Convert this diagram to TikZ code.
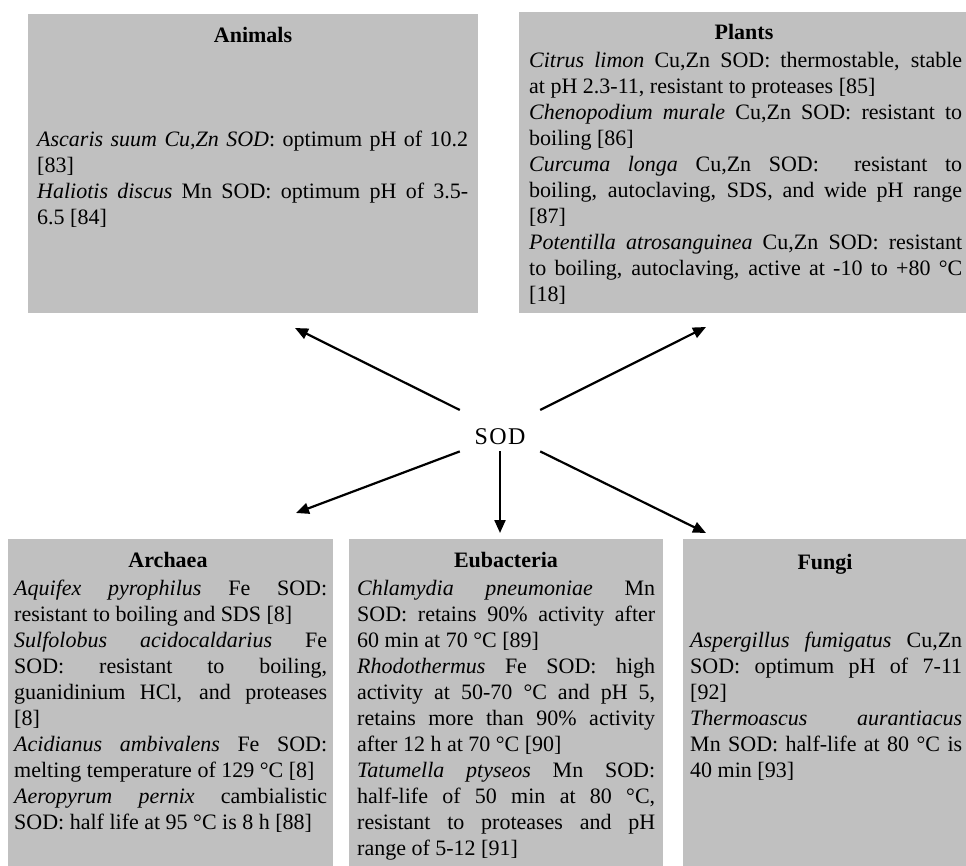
\documentclass[tikz,border=0pt]{standalone}
\usepackage{fontspec}
\setmainfont{Liberation Serif}
\usetikzlibrary{arrows.meta}
\definecolor{panelgray}{HTML}{C0C0C0}
\newcommand\fs{\fontsize{22}{26}\selectfont}
\newcommand\jl[1]{\hbox to \linewidth{\strut #1}}
\newcommand\pl[1]{\hbox to \linewidth{\strut #1\hfil}}
\newcommand\blk[2]{\parbox[t]{#1}{\fs #2}}
\tikzset{
  panel/.style={draw=none, fill=panelgray, inner sep=0pt, anchor=north west},
  ttl/.style={anchor=base, inner sep=0pt, font=\fs\bfseries},
  body/.style={anchor=base west, inner sep=0pt},
  arr/.style={line width=2.2pt, -{Triangle[length=13pt,width=11pt]}}
}
\begin{document}
\begin{tikzpicture}[x=1pt,y=-1pt]
\useasboundingbox (0,0) rectangle (966,866);
% panels
\node[panel, minimum width=450pt, minimum height=299pt] (animals) at (28,14) {};
\node[panel, minimum width=447pt, minimum height=301pt] (plants) at (519,12) {};
\node[panel, minimum width=325pt, minimum height=327pt] (archaea) at (8,539) {};
\node[panel, minimum width=314pt, minimum height=327pt] (eubact) at (349,539) {};
\node[panel, minimum width=283pt, minimum height=327pt] (fungi) at (683,539) {};
% titles
\node[ttl] (tAn) at (253,43) {Animals};
\node[ttl] (tPl) at (744,40) {Plants};
\node[ttl] (tAr) at (168,567) {Archaea};
\node[ttl] (tEu) at (506,567) {Eubacteria};
\node[ttl] (tFu) at (825,569) {Fungi};
% texts
\node[body] (xAn) at (37,147) {\blk{431pt}{%
\jl{\textit{Ascaris suum Cu,Zn SOD}: optimum pH of 10.2}
\pl{[83]}
\jl{\textit{Haliotis discus} Mn SOD: optimum pH of 3.5-}
\pl{6.5 [84]}}};
\node[body] (xPl) at (529,68) {\blk{433pt}{%
\jl{\textit{Citrus limon} Cu,Zn SOD: thermostable, stable}
\pl{at pH 2.3-11, resistant to proteases [85]}
\jl{\textit{Chenopodium murale} Cu,Zn SOD: resistant to}
\pl{boiling [86]}
\jl{\textit{Curcuma longa} Cu,Zn SOD:\ \ resistant to}
\jl{boiling, autoclaving, SDS, and wide pH range}
\pl{[87]}
\jl{\textit{Potentilla atrosanguinea} Cu,Zn SOD: resistant}
\jl{to boiling, autoclaving, active at -10 to +80 °C}
\pl{[18]}}};
\node[body] (xAr) at (14,595) {\blk{313pt}{%
\jl{\textit{Aquifex pyrophilus} Fe SOD:}
\pl{resistant to boiling and SDS [8]}
\jl{\textit{Sulfolobus acidocaldarius} Fe}
\jl{SOD: resistant to boiling,}
\jl{guanidinium HCl, and proteases}
\pl{[8]}
\jl{\textit{Acidianus ambivalens} Fe SOD:}
\pl{melting temperature of 129 °C [8]}
\jl{\textit{Aeropyrum pernix} cambialistic}
\pl{SOD: half life at 95 °C is 8 h [88]}}};
\node[body] (xEu) at (357,595) {\blk{298pt}{%
\jl{\textit{Chlamydia pneumoniae} Mn}
\jl{SOD: retains 90\% activity after}
\pl{60 min at 70 °C [89]}
\jl{\textit{Rhodothermus} Fe SOD: high}
\jl{activity at 50-70 °C and pH 5,}
\jl{retains more than 90\% activity}
\pl{after 12 h at 70 °C [90]}
\jl{\textit{Tatumella ptyseos} Mn SOD:}
\jl{half-life of 50 min at 80 °C,}
\jl{resistant to proteases and pH}
\pl{range of 5-12 [91]}}};
\node[body] (xFu) at (690,647) {\blk{272pt}{%
\jl{\textit{Aspergillus fumigatus} Cu,Zn}
\jl{SOD: optimum pH of 7-11}
\pl{[92]}
\jl{\textit{Thermoascus aurantiacus}}
\jl{Mn SOD: half-life at 80 °C is}
\pl{40 min [93]}}};
% centre
\node[inner sep=0pt, minimum width=80pt, text height=34pt, text depth=7pt,
      font=\fontsize{24}{28}\selectfont] (sod) at (500,410) [anchor=north] {S\kern1.5pt O\kern1.5pt D};
\coordinate (tipAn) at (295,328);
\coordinate (tipPl) at (706,327);
\coordinate (tipAr) at (296,513);
\coordinate (tipEu) at (500,533);
\coordinate (tipFu) at (706,533);
\draw[arr] (sod.north west) -- (tipAn);
\draw[arr] (sod.north east) -- (tipPl);
\draw[arr] (sod.south west) -- (tipAr);
\draw[arr] (sod.south) -- (tipEu);
\draw[arr] (sod.south east) -- (tipFu);
\end{tikzpicture}
\end{document}
